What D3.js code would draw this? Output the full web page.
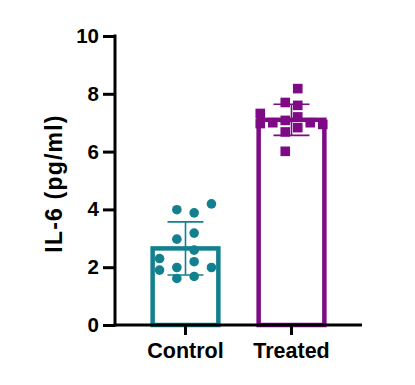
<!DOCTYPE html>
<html>
<head>
<meta charset="utf-8">
<script src="https://cdn.jsdelivr.net/npm/d3@7"></script>
<style>
  html, body { margin: 0; padding: 0; background: #fff; }
  svg { display: block; }
  text { font-family: Arial, "Liberation Sans", sans-serif; font-weight: bold; fill: #000; }
</style>
</head>
<body>
<svg id="chart" width="415" height="385"></svg>
<script>
// ---- data ----
const categories = ["Control", "Treated"];
const means = [2.65, 7.1];
const sds = [0.92, 0.54];
const controlValues = [4.19, 3.99, 3.88, 2.97, 3.18, 2.59, 2.30, 1.90, 1.99, 2.19, 1.99, 1.61, 1.68];
const controlColumns = [1.5, -0.5, 0.5, -0.5, 0.5, 0.5, -1.5, -1.5, -0.5, 0.5, 1.5, -0.5, 0.5];
const treatedValues = [8.18, 7.70, 7.60, 7.32, 6.97, 7.00, 7.08, 7.20, 6.83, 7.00, 6.94, 6.68, 6.01];
const treatedColumns = [0.5, -0.5, 0.5, -2.5, -2.5, -1.5, -0.5, 0.5, 0.5, 1.5, 2.5, -0.5, -0.5];
const yTicks = [0, 2, 4, 6, 8, 10];
const yLabel = "IL-6 (pg/ml)";

// ---- styles ----
const colors = ["#13808f", "#7f0a85"];
const spread = [17.3, 12.5];
const svg = d3.select("#chart");
const mLeft = 115, mRight = 362, mTop = 36, mBottom = 325;

const x = d3.scaleBand().domain(categories).range([mLeft, mRight])
  .paddingInner(0.38).paddingOuter(0.355);
const y = d3.scaleLinear().domain([0, 10]).range([mBottom, mTop]);
const bw = x.bandwidth();

// bars
svg.append("g").selectAll("rect").data(categories).join("rect")
  .attr("x", d => x(d))
  .attr("y", (d, i) => y(means[i]))
  .attr("width", bw)
  .attr("height", (d, i) => y(0) - y(means[i]))
  .attr("fill", "none")
  .attr("stroke", (d, i) => colors[i])
  .attr("stroke-width", 4.5);

// error bars
const eb = svg.append("g");
categories.forEach((c, i) => {
  const cx = x(c) + bw / 2;
  const g = eb.append("g").attr("stroke", colors[i]).attr("stroke-width", 1.6);
  g.append("line").attr("x1", cx).attr("x2", cx).attr("y1", y(means[i] + sds[i])).attr("y2", y(means[i] - sds[i]));
  g.append("line").attr("x1", cx - 18).attr("x2", cx + 18).attr("y1", y(means[i] + sds[i])).attr("y2", y(means[i] + sds[i]));
  g.append("line").attr("x1", cx - 18).attr("x2", cx + 18).attr("y1", y(means[i] - sds[i])).attr("y2", y(means[i] - sds[i]));
});

// points
const cc = x("Control") + bw / 2;
svg.append("g").selectAll("circle").data(controlValues).join("circle")
  .attr("cx", (d, i) => cc + controlColumns[i] * spread[0])
  .attr("cy", d => y(d))
  .attr("r", 4.8)
  .attr("fill", colors[0]);
const tc = x("Treated") + bw / 2;
const sq = 9.6;
svg.append("g").selectAll("rect").data(treatedValues).join("rect")
  .attr("x", (d, i) => tc + treatedColumns[i] * spread[1] - sq / 2)
  .attr("y", d => y(d) - sq / 2)
  .attr("width", sq).attr("height", sq)
  .attr("fill", colors[1]);

// axes
const yAxis = svg.append("g").attr("transform", `translate(${mLeft},0)`)
  .call(d3.axisLeft(y).tickValues(yTicks).tickSize(12).tickPadding(4).tickSizeOuter(0));
yAxis.selectAll("path, line").attr("stroke", "#000").attr("stroke-width", 3);
yAxis.select(".domain").attr("d", `M0,${mBottom + 1.5}V${mTop - 1.5}`);
yAxis.selectAll("text").style("font-size", "20.5px");

const xAxis = svg.append("g").attr("transform", `translate(0,${mBottom})`)
  .call(d3.axisBottom(x).tickSize(10).tickPadding(8).tickSizeOuter(0));
xAxis.selectAll("path, line").attr("stroke", "#000").attr("stroke-width", 3);
xAxis.select(".domain").attr("d", `M${mLeft - 1.5},0H${mRight}`);
xAxis.selectAll("text").style("font-size", "21.5px");

// y label
svg.append("text")
  .attr("transform", `translate(62,${(mTop + mBottom) / 2 + 3}) rotate(-90)`)
  .attr("text-anchor", "middle")
  .style("font-size", "23px")
  .style("letter-spacing", "1.2px")
  .text(yLabel);
</script>
</body>
</html>
